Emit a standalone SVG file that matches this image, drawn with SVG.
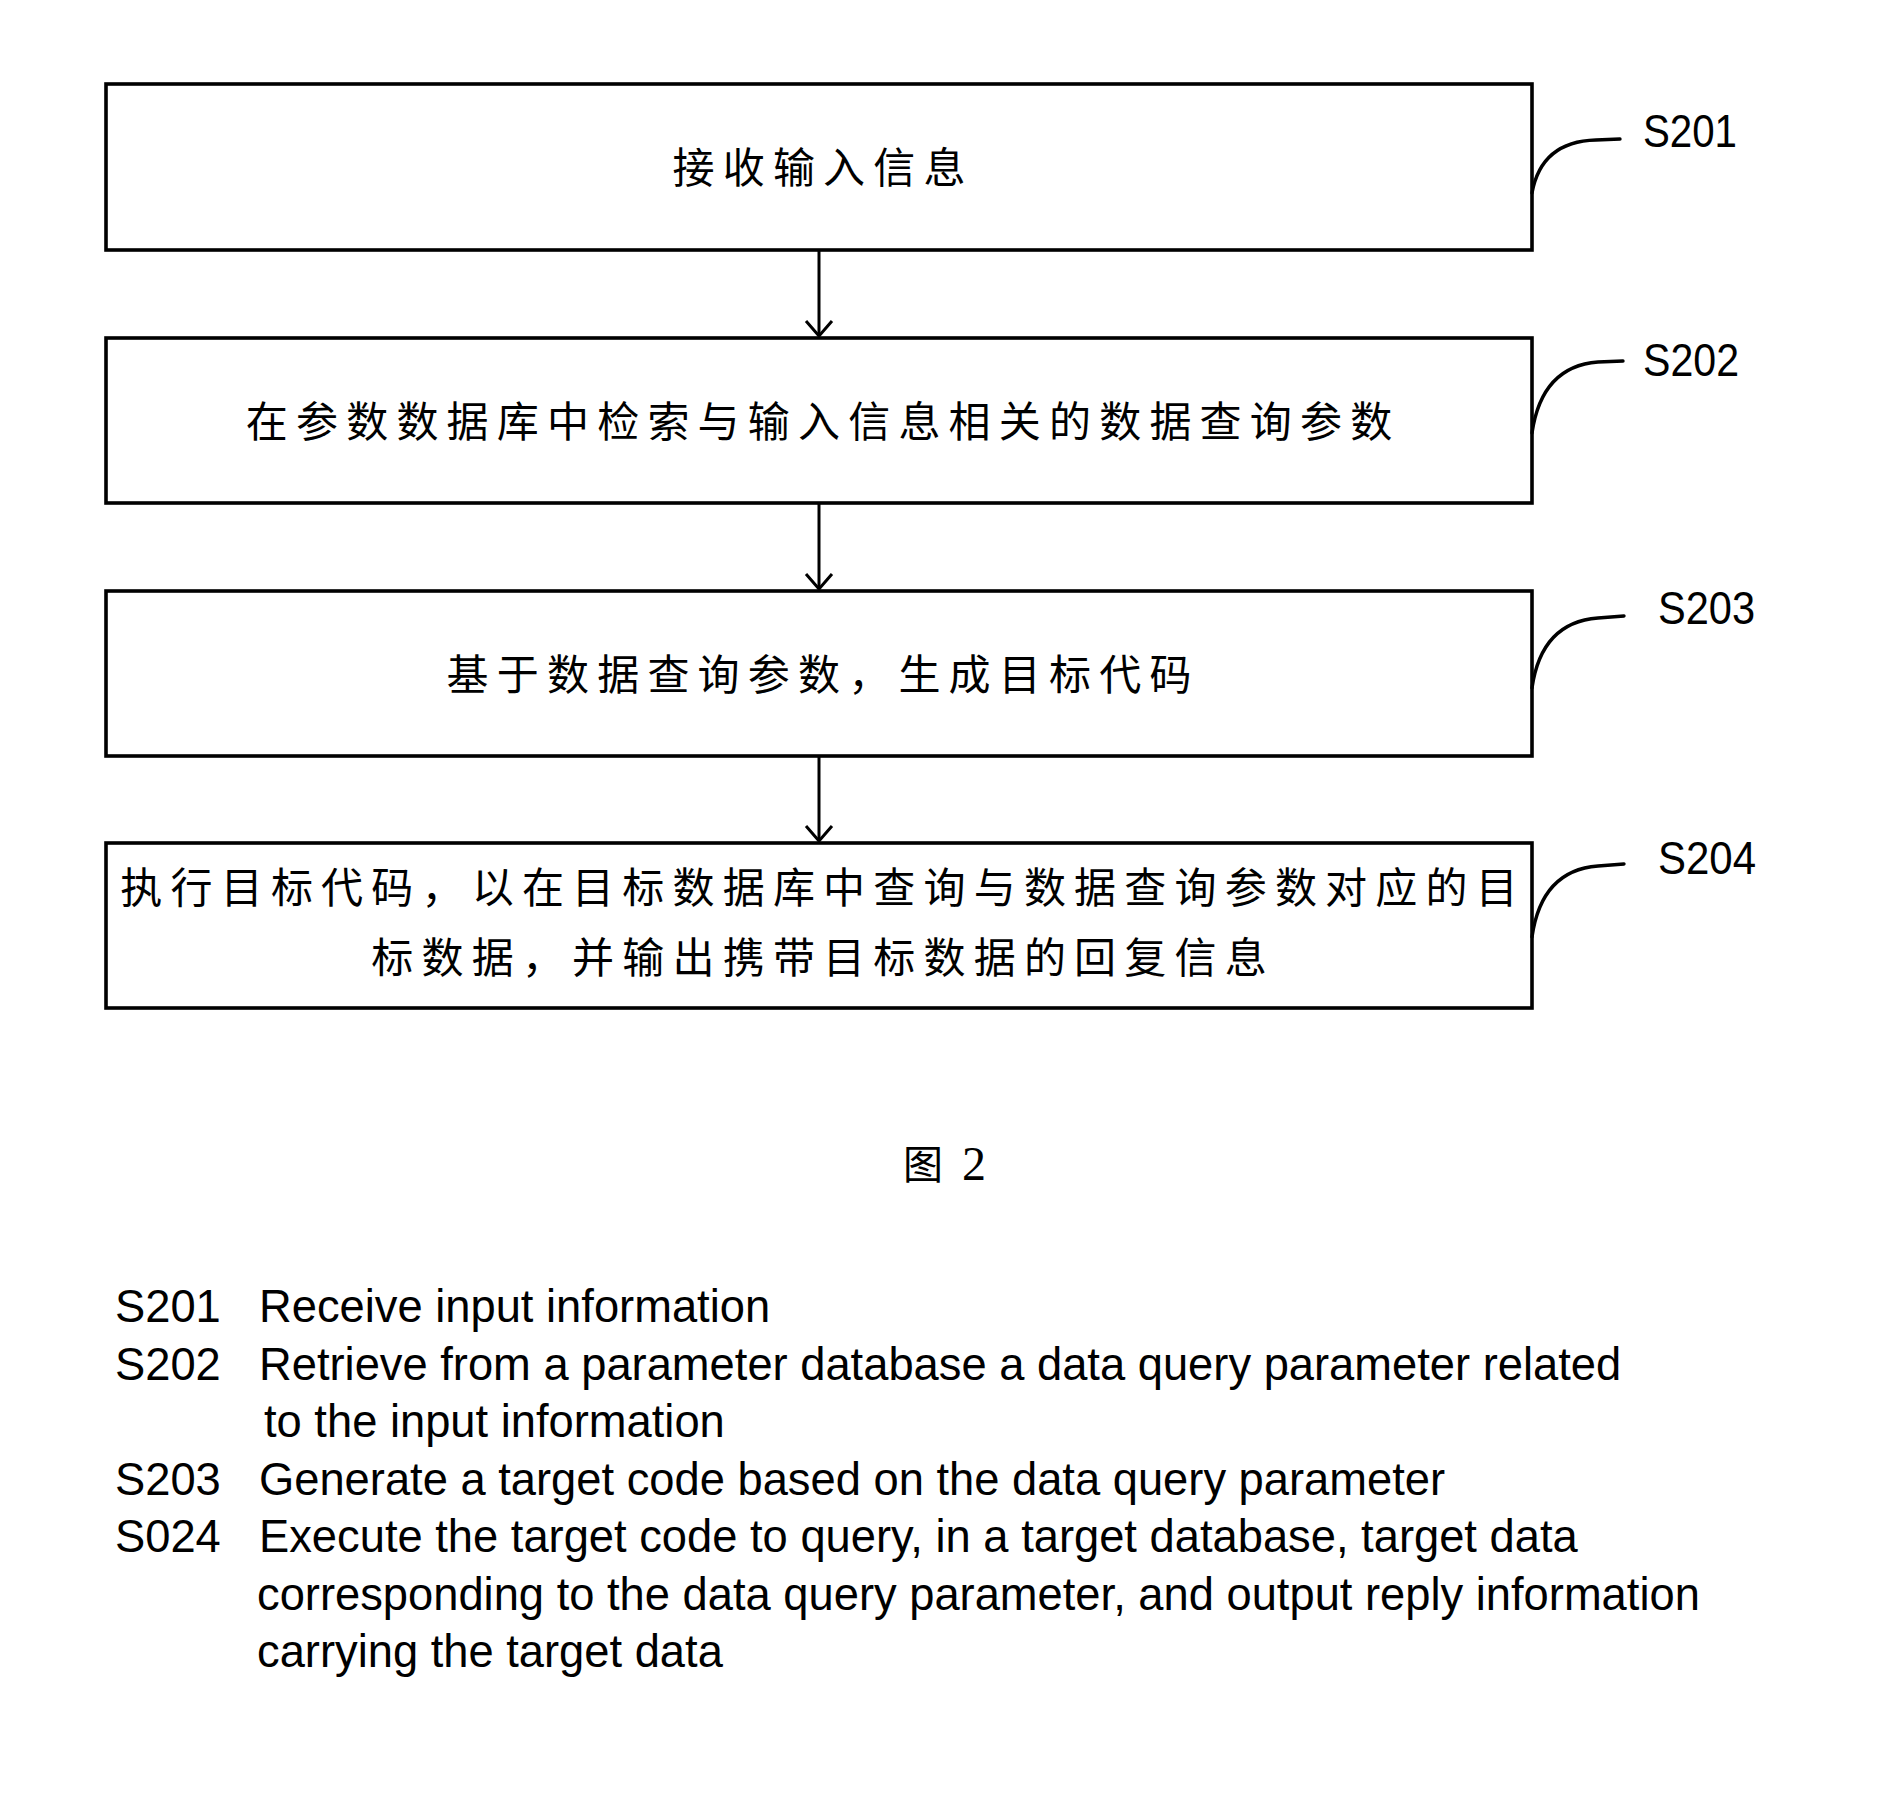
<svg xmlns="http://www.w3.org/2000/svg" width="1892" height="1820" viewBox="0 0 1892 1820">
  <style>
    .box { fill: #ffffff; stroke: #000000; stroke-width: 3.6; }
    .step { font-family: "Noto Sans CJK SC", "Noto Sans CJK JP", sans-serif; font-size: 42px; letter-spacing: 8.2px; fill: #000000; }
    .tag { font-family: "Liberation Sans", Arial, sans-serif; font-size: 46px; fill: #000000; }
    .legend { font-family: "Liberation Sans", Arial, sans-serif; font-size: 45.3px; fill: #000000; }
    .flow { fill: none; stroke: #000000; stroke-width: 3; }
    .leader { fill: none; stroke: #000000; stroke-width: 3.4; stroke-linecap: round; }
  </style>
  <defs>
    <marker id="arrow" markerUnits="userSpaceOnUse" markerWidth="20" markerHeight="32" refX="16" refY="14" orient="auto" overflow="visible">
      <path d="M1,1 L16,14 L1,27" fill="none" stroke="#000000" stroke-width="3"/>
    </marker>
  </defs>
  <rect x="0" y="0" width="1892" height="1820" fill="#ffffff"/>

  <!-- flow steps -->
  <g id="s201">
    <rect class="box" x="106" y="84" width="1426" height="166"/>
    <text class="step" x="672.5" y="182.5">接收输入信息</text>
  </g>
  <g id="s202">
    <rect class="box" x="106" y="338" width="1426" height="165"/>
    <text class="step" x="245.8" y="437">在参数数据库中检索与输入信息相关的数据查询参数</text>
  </g>
  <g id="s203">
    <rect class="box" x="106" y="591" width="1426" height="165"/>
    <text class="step" x="446.6" y="690">基于数据查询参数，生成目标代码</text>
  </g>
  <g id="s204">
    <rect class="box" x="106" y="843" width="1426" height="165"/>
    <text class="step" x="120.3" y="903">执行目标代码，以在目标数据库中查询与数据查询参数对应的目</text>
    <text class="step" x="371.3" y="973">标数据，并输出携带目标数据的回复信息</text>
  </g>

  <!-- connectors between steps -->
  <g id="connectors">
    <line class="flow" x1="819" y1="250" x2="819" y2="336" marker-end="url(#arrow)"/>
    <line class="flow" x1="819" y1="503" x2="819" y2="589" marker-end="url(#arrow)"/>
    <line class="flow" x1="819" y1="756" x2="819" y2="841" marker-end="url(#arrow)"/>
  </g>

  <!-- step reference labels with leader curves -->
  <g id="labels">
    <path class="leader" d="M1532,193 C1538,160 1558,141 1596,140 L1620,139"/>
    <text class="tag" x="1643" y="147" textLength="94" lengthAdjust="spacingAndGlyphs">S201</text>
    <path class="leader" d="M1532,433 C1538,392 1558,365 1598,362 L1623,361"/>
    <text class="tag" x="1643" y="376" textLength="96" lengthAdjust="spacingAndGlyphs">S202</text>
    <path class="leader" d="M1532,688 C1538,646 1558,621 1598,618 L1624,616"/>
    <text class="tag" x="1658" y="624" textLength="97" lengthAdjust="spacingAndGlyphs">S203</text>
    <path class="leader" d="M1532,937 C1538,895 1558,869 1598,866 L1624,864"/>
    <text class="tag" x="1658" y="874" textLength="98" lengthAdjust="spacingAndGlyphs">S204</text>
  </g>

  <!-- figure caption -->
  <g id="caption">
    <text x="903" y="1179" font-family="'Noto Sans CJK SC', sans-serif" font-size="40">图</text>
    <text x="962" y="1180" font-family="'Liberation Serif', 'Times New Roman', serif" font-size="48">2</text>
  </g>

  <!-- step legend -->
  <g id="legend" class="legend">
    <text x="115" y="1322">S201</text>
    <text x="259" y="1322">Receive input information</text>
    <text x="115" y="1380">S202</text>
    <text x="259" y="1380">Retrieve from a parameter database a data query parameter related</text>
    <text x="264" y="1437">to the input information</text>
    <text x="115" y="1495">S203</text>
    <text x="259" y="1495">Generate a target code based on the data query parameter</text>
    <text x="115" y="1552">S024</text>
    <text x="259" y="1552">Execute the target code to query, in a target database, target data</text>
    <text x="257" y="1610">corresponding to the data query parameter, and output reply information</text>
    <text x="257" y="1667">carrying the target data</text>
  </g>
</svg>
